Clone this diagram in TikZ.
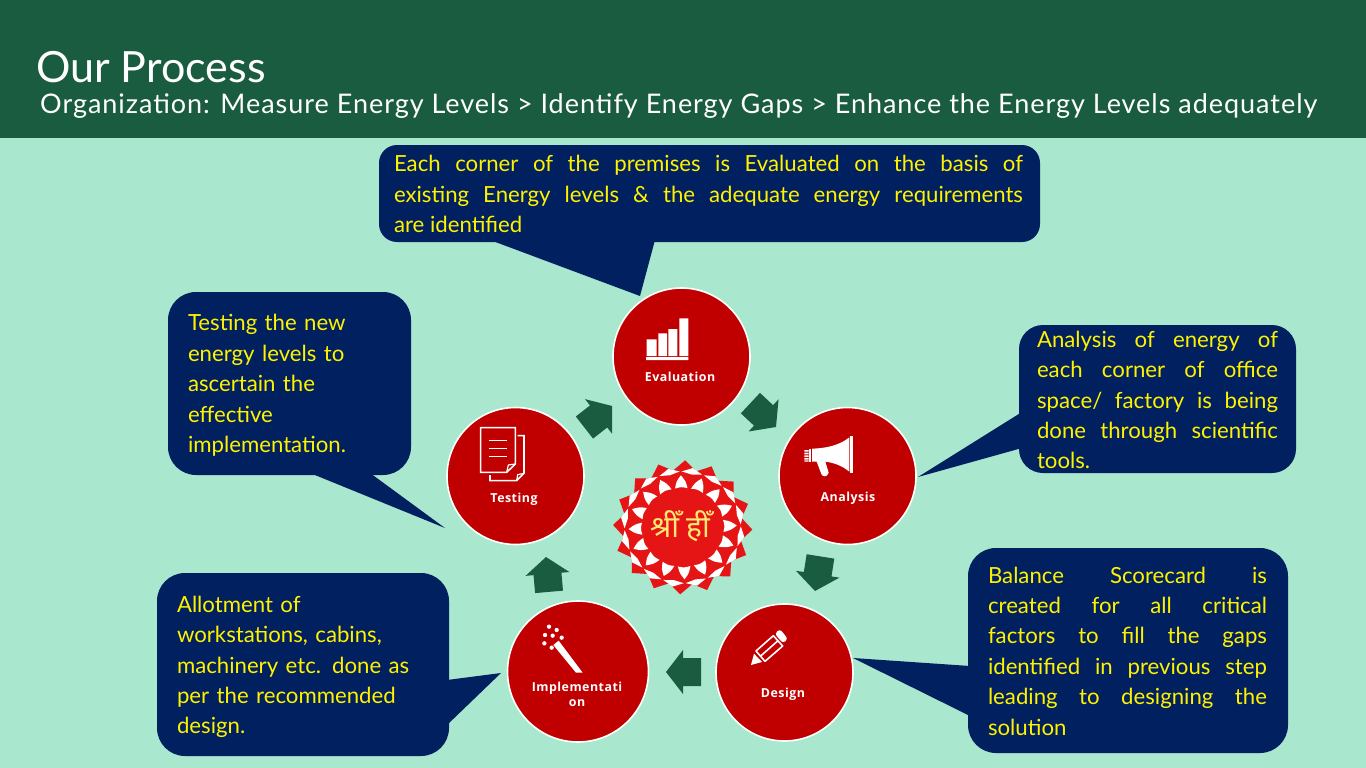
\documentclass[tikz,border=0pt]{standalone}
\usepackage{fontspec}
\setmainfont{Lato}
\newfontfamily\subfont[LetterSpace=3.6]{Lato}
\newfontfamily\labfont[LetterSpace=4]{Open Sans}
\newfontfamily\devfont[Script=Devanagari]{Noto Sans}
\tolerance=10000 \hbadness=10000 \hfuzz=20pt
\definecolor{bgmint}{HTML}{A9E7CE}
\definecolor{headgreen}{HTML}{1A5C40}
\definecolor{navybox}{HTML}{002060}
\definecolor{discred}{HTML}{C00000}
\definecolor{mandred}{HTML}{E61515}
\definecolor{mandyellow}{HTML}{FFE873}
\tikzset{
  x=1pt,y=-1pt,
  disc/.style={circle,fill=discred,draw=white,line width=1.6pt,inner sep=0pt},
  disclabel/.style={text=white,font=\labfont\bfseries\fontsize{12.4}{16}\selectfont,align=center},
  calloutbox/.style={rectangle,fill=navybox,inner sep=0pt},
  callouttext/.style={text=yellow,inner sep=0pt,font=\fontsize{22.2}{30.4}\selectfont},
  tailfill/.style={fill=navybox},
  flowarrow/.style={fill=headgreen},
  iconline/.style={draw=white,line width=1.6pt,fill=none},
}
\newcommand{\flowarrowat}[3]{\fill[flowarrow,shift={(#1,#2)},rotate=#3]
  (0,0) -- (-17,-22) -- (-17,-14) -- (-35,-14) -- (-35,14) -- (-17,14) -- (-17,22) -- cycle;}
\begin{document}
\begin{tikzpicture}
\useasboundingbox (0,0) rectangle (1366,768);
\fill[bgmint] (0,0) rectangle (1366,768);
\fill[headgreen] (0,0) rectangle (1366,138);
\node[anchor=base west,inner sep=0pt,text=white,font=\fontsize{43}{50}\selectfont] (title) at (36,82.5) {Our Process};
\node[anchor=base west,inner sep=0pt,text=white,font=\subfont\fontsize{27}{30}\selectfont] (subtitle) at (40,113.5) {Organization: Measure Energy Levels > Identify Energy Gaps > Enhance the Energy Levels adequately};

% callout tails
\fill[tailfill] (490,240) -- (640,296) -- (655,240) -- cycle;
\fill[tailfill] (1022,412) -- (918,477) -- (1022,448) -- cycle;
\fill[tailfill] (970,666) -- (853,658) -- (970,716) -- cycle;
\fill[tailfill] (310,473) -- (445,528) -- (370,473) -- cycle;
\fill[tailfill] (447,680) -- (501,673) -- (447,725) -- cycle;

% callouts
\node[calloutbox,rounded corners=18pt,minimum width=661pt,minimum height=97pt] (evalnote) at (709.5,193.5) {};
\node[callouttext,text width=629pt,align=justify] (evaltext) at (708.5,194)
 {Each corner of the premises is Evaluated on the basis of\linebreak existing Energy levels \& the adequate energy requirements\linebreak are identified};
\node[calloutbox,rounded corners=24pt,minimum width=277pt,minimum height=148pt] (ananote) at (1157.5,399) {};
\node[callouttext,text width=241pt,align=justify] (anatext) at (1157.5,400)
 {Analysis of energy of\linebreak each corner of office\linebreak space/ factory is being\linebreak done through scientific\linebreak tools.};
\node[calloutbox,rounded corners=28pt,minimum width=320pt,minimum height=205pt] (desnote) at (1128,650.5) {};
\node[callouttext,text width=279pt,align=justify] (destext) at (1127.5,651)
 {Balance Scorecard is\linebreak created for all critical\linebreak factors to fill the gaps\linebreak identified in previous step\linebreak leading to designing the\linebreak solution};
\node[calloutbox,rounded corners=28pt,minimum width=243pt,minimum height=183pt] (testnote) at (289.5,383.5) {};
\node[callouttext,text width=203pt,align=left] (testtext) at (289.5,385.5)
 {Testing the new\\energy levels to\\ascertain the\\effective\\implementation.};
\node[calloutbox,rounded corners=28pt,minimum width=292pt,minimum height=183pt] (implnote) at (303,664.5) {};
\node[callouttext,text width=252pt,align=left] (impltext) at (303,667)
 {Allotment of\\workstations, cabins,\\machinery etc. done as\\per the recommended\\design.};

% discs
\node[disc,minimum size=137pt] (evaluation) at (681.5,356.5) {};
\node[disc,minimum size=137pt] (analysis) at (847.5,476) {};
\node[disc,minimum size=137pt] (design) at (784.5,672.5) {};
\node[disc,minimum size=141pt] (implementation) at (578,671.5) {};
\node[disc,minimum size=137pt] (testing) at (515.5,476) {};

\node[disclabel,anchor=base] (evallab) at (680,381) {Evaluation};
\node[disclabel,anchor=base] (analab) at (848,501.7) {Analysis};
\node[disclabel,anchor=base] (deslab) at (783,697) {Design};
\node[disclabel] (impllab) at (577,694.5) {Implementati\\[-1pt]on};
\node[disclabel,anchor=base] (testlab) at (514,502) {Testing};

% flow arrows
\flowarrowat{776}{427}{-43}
\flowarrowat{815}{591}{-99}
\flowarrowat{666}{672}{180}
\flowarrowat{546}{557}{95}
\flowarrowat{612}{406}{38}

% bar chart icon
\begin{scope}[shift={(600,280)},scale=1/3]
  \fill[white] (140,178) rectangle (170,228) (175,160) rectangle (201,228)
               (205,147) rectangle (232,228) (238,115) rectangle (265,228)
               (138,231) rectangle (265,240);
\end{scope}
% megaphone icon
\begin{scope}[shift={(600,280)},scale=1/3]
  \fill[white] (636,506) .. controls (680,505) and (720,495) .. (748,472) -- (748,575)
     .. controls (725,556) and (700,548) .. (676,545) -- (686,578)
     .. controls (682,592) and (668,592) .. (664,582) -- (650,545) -- (636,545) -- cycle;
  \fill[white] (750,468) rectangle (759,579);
  \fill[white] (626,508) rectangle (633,546);
  \fill[white] (613,510) rectangle (626,515) (613,518) rectangle (626,523)
               (613,526) rectangle (626,531) (613,534) rectangle (626,539) (613,541) rectangle (626,545);
\end{scope}
% document icon
\begin{scope}[shift={(440,390)},scale=1/3]
  \draw[iconline] (122,113) -- (226,113) -- (226,222) -- (200,247) -- (122,247) -- cycle;
  \draw[iconline,line width=1.2pt] (200,247) -- (205,225) -- (226,222);
  \draw[iconline] (233,137) -- (252,137) -- (252,250) -- (230,272) -- (150,272) -- (150,255);
  \draw[iconline,line width=1.2pt] (230,272) -- (233,254) -- (252,250);
  \draw[iconline] (148,152) -- (200,152) (148,176) -- (200,176) (148,200) -- (200,200);
\end{scope}
% wand and pencil icons
\begin{scope}[shift={(500,590)},scale=1/3]
  \fill[white] (160,165) -- (176,152) -- (248,248) -- (228,248) -- cycle;
  \foreach \dotx/\doty in {147/110,170/120,158/137,185/143,135/135,133/160,155/173}
    \fill[white] (\dotx,\doty) circle (6.5);
  \fill[white] (753,225) -- (762,191) -- (786,216) -- cycle;
  \draw[iconline,line join=round] (768,183) -- (820,137) -- (848,168) -- (795,214) -- cycle;
  \draw[iconline] (782,198) -- (834,152);
  \fill[white,rounded corners=3pt] (824,131) -- (840,117) -- (864,147) -- (849,160) -- cycle;
\end{scope}

% mandala
\begin{scope}[shift={(682.7,527.3)},xscale=1.04]
  \fill[mandred] (92:67) \foreach \k in {0,...,15} { -- ({92+\k*22.5}:67) -- ({92+11.25+\k*22.5}:57.5) } -- cycle;
  \foreach \k in {0,...,15} {
    \begin{scope}[rotate={92+\k*22.5}]
      \fill[white] (52,0) .. controls (46,4.5) .. (39,6) .. controls (40.5,0) .. (39,-6) .. controls (46,-4.5) .. (52,0);
    \end{scope}
    \begin{scope}[rotate={92+11.25+\k*22.5}]
      \fill[white] (60,0) -- (55,10) -- (53.5,0) -- (55,-10) -- cycle;
    \end{scope}
  }
\end{scope}
\node[text=mandyellow,font=\devfont\fontsize{30}{32}\selectfont,inner sep=0pt] (mantra) at (680,526) {श्रीँ\hspace{7pt}हीँ};
\end{tikzpicture}
\end{document}
